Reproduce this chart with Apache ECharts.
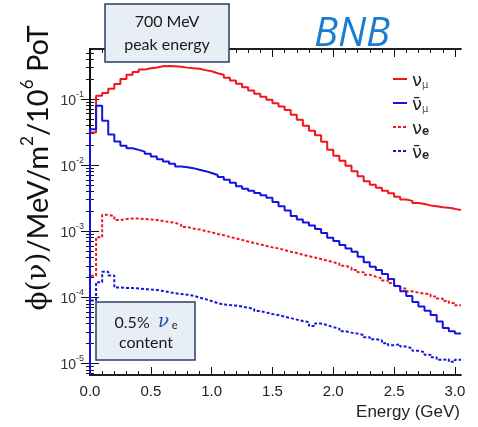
<!DOCTYPE html>
<html>
<head>
<meta charset="utf-8">
<script src="https://cdn.jsdelivr.net/npm/echarts@6/dist/echarts.min.js"></script>
<style>
  html, body { margin: 0; padding: 0; background: #fff; }
  #chart { width: 478px; height: 427px; }
</style>
</head>
<body>
<div id="chart"></div>
<script>
// left edge of every 0.05 GeV bin
const binEdges = [0, 0.05, 0.1, 0.15, 0.2, 0.25, 0.3, 0.35, 0.4, 0.45, 0.5, 0.55, 0.6, 0.65, 0.7, 0.75,
  0.8, 0.85, 0.9, 0.95, 1.0, 1.05, 1.1, 1.15, 1.2, 1.25, 1.3, 1.35, 1.4, 1.45, 1.5, 1.55, 1.6, 1.65,
  1.7, 1.75, 1.8, 1.85, 1.9, 1.95, 2.0, 2.05, 2.1, 2.15, 2.2, 2.25, 2.3, 2.35, 2.4, 2.45, 2.5, 2.55,
  2.6, 2.65, 2.7, 2.75, 2.8, 2.85, 2.9, 2.95, 3.0]
const xEnd = 3.05

// nu_mu
const numu = [0.031, 0.112, 0.123, 0.143, 0.169, 0.200, 0.233, 0.256, 0.278, 0.291,
  0.300, 0.312, 0.314, 0.312, 0.306, 0.298, 0.291, 0.286, 0.273, 0.262,
  0.245, 0.233, 0.210, 0.190, 0.170, 0.150, 0.134, 0.120, 0.108, 0.097,
  0.086, 0.077, 0.068, 0.058, 0.0485, 0.0394, 0.0331, 0.0283, 0.0226, 0.0170,
  0.0138, 0.0116, 0.00975, 0.00805, 0.00676, 0.00568, 0.00503, 0.00453, 0.00408, 0.00374,
  0.00331, 0.00303, 0.00288, 0.00268, 0.00259, 0.00246, 0.00238, 0.00230, 0.00226, 0.00218,
  0.00210]
// anti nu_mu
const numubar = [0.035, 0.079, 0.047, 0.029, 0.0228, 0.0196, 0.018, 0.017, 0.016, 0.0148,
  0.0135, 0.0123, 0.0113, 0.0105, 0.0095, 0.0093, 0.0090, 0.0085, 0.0081, 0.0076,
  0.0071, 0.0066, 0.0060, 0.0054, 0.0048, 0.0044, 0.0041, 0.0038, 0.0035, 0.0032,
  0.00278, 0.00238, 0.00206, 0.0017, 0.00151, 0.00136, 0.00122, 0.00108, 0.00094, 0.0008,
  0.00071, 0.00062, 0.00055, 0.00049, 0.00041, 0.00034, 0.00029, 0.00026, 0.000225, 0.000189,
  0.000148, 0.000124, 0.000105, 0.000085, 0.0000726, 0.000063, 0.000054, 0.000043, 0.0000343, 0.0000308,
  0.0000285]
// nu_e
const nue = [0.000212, 0.00081, 0.00177, 0.0017, 0.00148, 0.00153, 0.00156, 0.00156, 0.00153, 0.00151,
  0.00148, 0.00143, 0.00138, 0.00134, 0.00125, 0.00116, 0.0011, 0.00106, 0.00101, 0.00096,
  0.00091, 0.00087, 0.00082, 0.00078, 0.00074, 0.0007, 0.000665, 0.00063, 0.0006, 0.00057,
  0.00055, 0.00052, 0.00049, 0.00047, 0.00044, 0.00042, 0.0004, 0.00038, 0.00036, 0.00034,
  0.000325, 0.0003, 0.00028, 0.00026, 0.00024, 0.00022, 0.000206, 0.000194, 0.00018, 0.000165,
  0.000148, 0.000136, 0.000124, 0.000118, 0.000114, 0.000111, 0.000103, 0.000096, 0.000088, 0.000082,
  0.000076]
// anti nu_e
const nuebar = [0.00009, 0.00017, 0.000244, 0.000215, 0.000141, 0.000138, 0.000138, 0.000136, 0.000134, 0.000131,
  0.000129, 0.000125, 0.00012, 0.000116, 0.000112, 0.00011, 0.000106, 0.0000993, 0.0000942, 0.0000879,
  0.000082, 0.0000778, 0.0000764, 0.0000751, 0.0000726, 0.00007, 0.0000665, 0.000062, 0.0000589, 0.0000559,
  0.000054, 0.0000512, 0.0000486, 0.0000461, 0.0000438, 0.0000423, 0.0000368, 0.0000401, 0.000038, 0.0000355,
  0.0000337, 0.0000308, 0.0000293, 0.0000283, 0.0000269, 0.000025, 0.0000233, 0.0000225, 0.0000203, 0.0000189,
  0.0000196, 0.000018, 0.0000169, 0.0000156, 0.0000148, 0.0000136, 0.0000124, 0.0000114, 0.0000116, 0.0000106,
  0.0000114]

const xMajor = [0, 0.5, 1.0, 1.5, 2.0, 2.5, 3.0]
const xMinor = [0.1, 0.2, 0.3, 0.4, 0.6, 0.7, 0.8, 0.9, 1.1, 1.2, 1.3, 1.4, 1.6, 1.7, 1.8, 1.9,
  2.1, 2.2, 2.3, 2.4, 2.6, 2.7, 2.8, 2.9]
const yMajor = [1e-5, 1e-4, 1e-3, 1e-2, 1e-1]
const yMin = 6.7e-6
const yMax = 0.57

// minor log ticks 2..9 in each decade
const yMinor = []
for (let e = -6; e <= -1; e++) {
  for (let k = 2; k <= 9; k++) {
    const v = k * Math.pow(10, e)
    if (v > yMin && v < yMax) yMinor.push(v)
  }
}

const red = '#f0161c'
const blue = '#1414e0'

// histogram outline: start from the bottom, close last bin at xEnd
function steps(vals) {
  const pts = [[0, yMin]]
  binEdges.forEach((x, i) => pts.push([x, vals[i]]))
  pts.push([xEnd, vals[vals.length - 1]])
  return pts
}

const chart = echarts.init(document.getElementById('chart'))

const frame = { show: true, lineStyle: { color: '#111', width: 1.5 } }
const tickFont = 'Liberation Sans'

function xAx(pos, ticks, len, labels) {
  return {
    type: 'value', position: pos, min: 0, max: xEnd,
    axisLine: frame,
    axisTick: { show: true, inside: true, length: len, customValues: ticks, lineStyle: { color: '#111', width: 1 } },
    axisLabel: labels ? {
      show: true, customValues: xMajor, margin: 9,
      fontFamily: tickFont, fontSize: 15, color: '#222',
      formatter: v => v.toFixed(1)
    } : { show: false },
    splitLine: { show: false }
  }
}
function yAx(pos, ticks, len, labels) {
  return {
    type: 'log', position: pos, min: yMin, max: yMax, logBase: 10,
    axisLine: frame,
    axisTick: { show: true, inside: true, length: len, customValues: ticks, lineStyle: { color: '#111', width: 1 } },
    axisLabel: labels ? {
      show: true, customValues: yMajor, margin: 6,
      formatter: v => '{b|10}{s|' + Math.round(Math.log10(v)) + '}',
      rich: {
        b: { fontFamily: tickFont, fontSize: 14, color: '#333', lineHeight: 18, verticalAlign: 'bottom' },
        s: { fontFamily: tickFont, fontSize: 9, color: '#333', lineHeight: 18, verticalAlign: 'top' }
      }
    } : { show: false },
    splitLine: { show: false }
  }
}

const names = {
  numu: '{n|ν}{m|μ}',
  numubar: '{n|ν̄}{m|μ}',
  nue: '{n|ν}{e|e}',
  nuebar: '{n|ν̄}{e|e}'
}

function line(name, vals, color, dotted) {
  return {
    name: name, type: 'line', step: 'end', symbol: 'none',
    data: steps(vals),
    lineStyle: { color: color, width: 2, type: dotted ? [3, 2] : 'solid' },
    itemStyle: { color: color },
    clip: true, animation: false
  }
}

chart.setOption({
  backgroundColor: '#fff',
  animation: false,
  grid: { left: 90, right: 17, top: 49, bottom: 52 },
  xAxis: [
    xAx('bottom', xMajor, 8, true),
    xAx('top', xMajor, 8, false),
    xAx('bottom', xMinor, 4, false),
    xAx('top', xMinor, 4, false)
  ],
  yAxis: [
    yAx('left', yMajor, 9, true),
    yAx('right', yMajor, 9, false),
    yAx('left', yMinor, 4, false),
    yAx('right', yMinor, 4, false)
  ],
  legend: {
    data: ['numu', 'numubar', 'nue', 'nuebar'],
    orient: 'vertical', left: 387, top: 67,
    itemWidth: 14, itemHeight: 8, itemGap: 6,
    itemStyle: { opacity: 0 },
    formatter: n => names[n],
    textStyle: {
      rich: {
        n: { fontFamily: 'DejaVu Sans', fontSize: 18, color: '#222', lineHeight: 22, verticalAlign: 'bottom' },
        m: { fontFamily: 'DejaVu Sans', fontSize: 10, color: '#555', lineHeight: 18, verticalAlign: 'bottom' },
        e: { fontFamily: 'Liberation Sans', fontSize: 13, fontWeight: 'bold', color: '#222', lineHeight: 18, verticalAlign: 'bottom' }
      }
    }
  },
  series: [
    line('nue', nue, red, true),
    line('nuebar', nuebar, blue, true),
    line('numu', numu, red, false),
    line('numubar', numubar, blue, false)
  ],
  graphic: [
    {
      type: 'text', x: 36, y: 168, rotation: Math.PI / 2, z: 100,
      style: {
        text: '{p|ϕ(ν)}{t|/MeV/m}{s|2}{t|/10}{s|6}{t| PoT}',
        align: 'center', verticalAlign: 'middle',
        rich: {
          p: { fontFamily: 'DejaVu Serif', fontSize: 28, fill: '#111', lineHeight: 34, verticalAlign: 'bottom' },
          t: { fontFamily: 'Lato', fontSize: 29, fill: '#111', lineHeight: 34, verticalAlign: 'bottom' },
          s: { fontFamily: 'Lato', fontSize: 17, fill: '#111', lineHeight: 34, verticalAlign: 'top' }
        }
      }
    },
    {
      type: 'text', x: 352, y: 35, z: 100,
      style: {
        text: 'BNB', align: 'center', verticalAlign: 'middle',
        fontFamily: 'Open Sans', fontStyle: 'italic', fontSize: 40, fill: '#1a7dd0'
      }
    },
    { type: 'rect', z: 100, shape: { x: 105, y: 4, width: 124, height: 58 },
      style: { fill: '#e8eef6', stroke: '#2d3a66', lineWidth: 1.5 } },
    { type: 'text', z: 101, x: 167, y: 22, style: { text: '700 MeV', align: 'center', verticalAlign: 'middle',
      fontFamily: 'Lato', fontSize: 16, fill: '#1a1a1a' } },
    { type: 'text', z: 101, x: 167, y: 45, style: { text: 'peak energy', align: 'center', verticalAlign: 'middle',
      fontFamily: 'Lato', fontSize: 16, fill: '#1a1a1a' } },
    { type: 'rect', z: 100, shape: { x: 96, y: 302, width: 99, height: 58 },
      style: { fill: '#e8eef6', stroke: '#2d3a66', lineWidth: 1.5 } },
    { type: 'text', z: 101, x: 146, y: 320, style: {
      text: '{a|0.5%  }{v|ν}{e| e}', align: 'center', verticalAlign: 'middle',
      rich: {
        a: { fontFamily: 'Lato', fontSize: 16, fill: '#1a1a1a', lineHeight: 22, verticalAlign: 'bottom' },
        v: { fontFamily: 'DejaVu Serif', fontStyle: 'italic', fontSize: 18, fill: '#1f4fa8', lineHeight: 22, verticalAlign: 'bottom' },
        e: { fontFamily: 'Lato', fontSize: 11, fill: '#1a1a1a', lineHeight: 22, verticalAlign: 'bottom' }
      } } },
    { type: 'text', z: 101, x: 146, y: 343, style: { text: 'content', align: 'center', verticalAlign: 'middle',
      fontFamily: 'Lato', fontSize: 16, fill: '#1a1a1a' } },
    {
      type: 'text', x: 460, y: 412, z: 100,
      style: { text: 'Energy (GeV)', align: 'right', verticalAlign: 'middle',
        fontFamily: tickFont, fontSize: 17, fill: '#222' }
    }
  ]
})
</script>
</body>
</html>
